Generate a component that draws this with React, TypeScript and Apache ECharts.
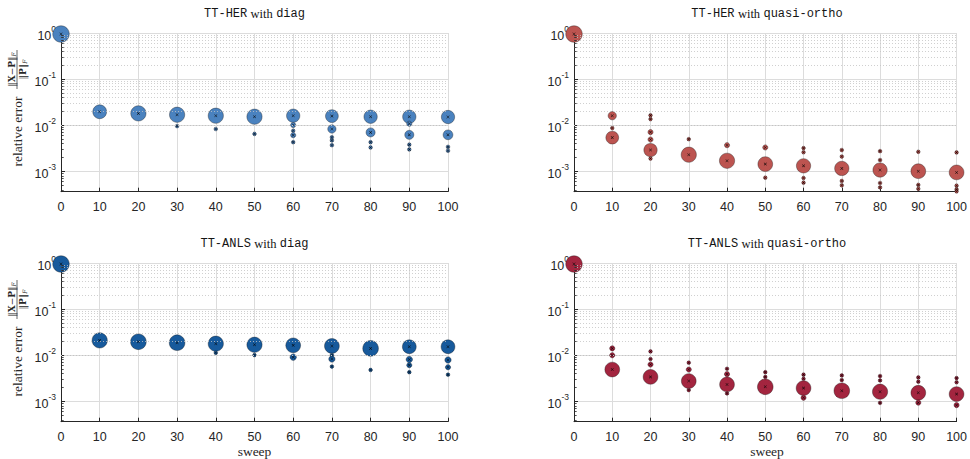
import React, { useEffect, useRef } from "react";
import * as echarts from "echarts";

// ---------- data ----------
const sweepTicks = [0, 10, 20, 30, 40, 50, 60, 70, 80, 90, 100];
const yMin = 3.63e-4;
const yMax = 1;

// [sweep, relative error, number of runs]
const herDiag: [number, number, number][] = [
  [0, 0.95, 20],
  [10, 0.0196, 14],
  [20, 0.0181, 17],
  [30, 0.0169, 17], [30, 0.0096, 1],
  [40, 0.0161, 17], [40, 0.0083, 1],
  [50, 0.0153, 17], [50, 0.0065, 1],
  [60, 0.0161, 13], [60, 0.0101, 2], [60, 0.0076, 1], [60, 0.0061, 2], [60, 0.0043, 1],
  [70, 0.0158, 12], [70, 0.0083, 5], [70, 0.0055, 1], [70, 0.0047, 1], [70, 0.0037, 1],
  [80, 0.0153, 13], [80, 0.007, 6], [80, 0.0043, 1], [80, 0.0033, 1],
  [90, 0.0153, 13], [90, 0.0108, 2], [90, 0.0062, 6], [90, 0.0038, 1], [90, 0.003, 1],
  [100, 0.0151, 13], [100, 0.0062, 7], [100, 0.0034, 1], [100, 0.0028, 1],
];

const herQuasi: [number, number, number][] = [
  [0, 0.95, 20],
  [10, 0.0161, 5], [10, 0.0087, 1], [10, 0.0054, 12],
  [20, 0.0164, 1], [20, 0.0136, 1], [20, 0.0071, 2], [20, 0.0049, 2], [20, 0.0029, 13], [20, 0.0019, 1],
  [30, 0.005, 1], [30, 0.0023, 17],
  [40, 0.0037, 2], [40, 0.0017, 17],
  [50, 0.0033, 2], [50, 0.00144, 16], [50, 0.00073, 1],
  [60, 0.0032, 1], [60, 0.0026, 1], [60, 0.00132, 15], [60, 0.00072, 1], [60, 0.00057, 1],
  [70, 0.0029, 1], [70, 0.0021, 1], [70, 0.00116, 15], [70, 0.00062, 1], [70, 0.0005, 1],
  [80, 0.00275, 1], [80, 0.00176, 1], [80, 0.00107, 15], [80, 0.00056, 1], [80, 0.00045, 1],
  [90, 0.00266, 1], [90, 0.00101, 16], [90, 0.00051, 1], [90, 0.00042, 1],
  [100, 0.00258, 1], [100, 0.00095, 16], [100, 0.00049, 1], [100, 0.00041, 1], [100, 0.00037, 1],
];

const anlsDiag: [number, number, number][] = [
  [0, 0.95, 20],
  [10, 0.021, 17],
  [20, 0.0196, 18],
  [30, 0.0187, 18],
  [40, 0.0178, 17], [40, 0.0113, 1],
  [50, 0.0169, 17], [50, 0.0101, 1],
  [60, 0.0164, 16], [60, 0.0091, 3],
  [70, 0.0159, 16], [70, 0.0101, 1], [70, 0.0083, 3], [70, 0.0057, 1],
  [80, 0.0141, 18], [80, 0.0048, 1],
  [90, 0.0153, 14], [90, 0.0081, 3], [90, 0.0061, 2], [90, 0.0043, 1],
  [100, 0.0153, 14], [100, 0.0079, 3], [100, 0.0055, 2], [100, 0.0038, 1],
];

const anlsQuasi: [number, number, number][] = [
  [0, 0.95, 20],
  [10, 0.0141, 2], [10, 0.01, 2], [10, 0.0049, 16],
  [20, 0.0121, 1], [20, 0.0083, 1], [20, 0.0063, 2], [20, 0.0034, 16],
  [30, 0.0069, 1], [30, 0.0049, 2], [30, 0.00276, 16], [30, 0.00176, 1],
  [40, 0.0051, 1], [40, 0.0039, 2], [40, 0.00233, 16], [40, 0.00149, 1],
  [50, 0.0043, 1], [50, 0.0034, 1], [50, 0.00207, 18],
  [60, 0.0038, 1], [60, 0.0031, 1], [60, 0.00194, 16], [60, 0.0012, 2],
  [70, 0.00366, 1], [70, 0.0029, 1], [70, 0.0017, 18],
  [80, 0.00354, 1], [80, 0.00285, 1], [80, 0.00162, 17], [80, 0.00093, 1],
  [90, 0.0033, 1], [90, 0.00267, 1], [90, 0.00154, 16], [90, 0.00094, 2],
  [100, 0.0032, 1], [100, 0.0026, 1], [100, 0.00144, 16], [100, 0.00083, 2],
];

const titles = [
  ["TT-HER", "diag"],
  ["TT-HER", "quasi-ortho"],
  ["TT-ANLS", "diag"],
  ["TT-ANLS", "quasi-ortho"],
];
const colors = ["#4a82bf", "#bc5450", "#175a9c", "#a3253f"];
const panelData = [herDiag, herQuasi, anlsDiag, anlsQuasi];

// ---------- layout ----------
const grids = [
  { left: 61, top: 33, width: 387, height: 158.7 },
  { left: 574, top: 33, width: 386, height: 158.7 },
  { left: 61, top: 263, width: 387, height: 158.7 },
  { left: 574, top: 263, width: 386, height: 158.7 },
];

const DARK = "#262626";
const MONO = "Liberation Mono";
const SERIF = "Liberation Serif";
const SANS = "Liberation Sans";

const crossPath =
  "path://M0,1L1,0L5,4L9,0L10,1L6,5L10,9L9,10L5,6L1,10L0,9L4,5Z";

function minorValues(): number[] {
  const out: number[] = [];
  for (let e = -4; e <= -1; e++) {
    for (let k = 2; k <= 9; k++) {
      const v = k * Math.pow(10, e);
      if (v > yMin && v < yMax) out.push(v);
    }
  }
  return out;
}

function yName(cx: number, cy: number) {
  const fracRich = {
    b: { fontFamily: "DejaVu Serif", fontWeight: "bold", fontSize: 9, fill: DARK },
    s: { fontFamily: "DejaVu Serif", fontStyle: "italic", fontSize: 6, fill: DARK, verticalAlign: "bottom", lineHeight: 6 },
  };
  return {
    type: "group",
    x: cx,
    y: cy,
    rotation: Math.PI / 2,
    silent: true,
    children: [
      {
        type: "text",
        x: -23.5,
        y: 0,
        style: {
          text: "relative error",
          fontFamily: SERIF,
          fontSize: 13.5,
          fill: DARK,
          align: "center",
          verticalAlign: "middle",
        },
      },
      {
        type: "text",
        x: 38.5,
        y: -5.5,
        style: {
          text: "‖{b|X}−{b|P}‖{s|F}",
          fontFamily: "DejaVu Serif",
          fontSize: 9,
          fill: DARK,
          align: "center",
          verticalAlign: "middle",
          rich: fracRich,
        },
      },
      {
        type: "line",
        shape: { x1: 19, y1: 0, x2: 58, y2: 0 },
        style: { stroke: DARK, lineWidth: 0.7 },
      },
      {
        type: "text",
        x: 38.5,
        y: 6,
        style: {
          text: "‖{b|P}‖{s|F}",
          fontFamily: "DejaVu Serif",
          fontSize: 9,
          fill: DARK,
          align: "center",
          verticalAlign: "middle",
          rich: fracRich,
        },
      },
    ],
  };
}

function buildOption() {
  const minors = minorValues();
  const series: any[] = [];
  const xAxis: any[] = [];
  const yAxis: any[] = [];
  const graphic: any[] = [];
  const title: any[] = [];

  grids.forEach((g, i) => {
    xAxis.push({
      type: "value",
      gridIndex: i,
      min: sweepTicks[0],
      max: sweepTicks[sweepTicks.length - 1],
      interval: sweepTicks[1] - sweepTicks[0],
      axisLine: { show: true, onZero: false, lineStyle: { color: DARK, width: 1 } },
      axisTick: { show: true, inside: true, length: 4, lineStyle: { color: DARK } },
      axisLabel: { color: DARK, fontSize: 12.5, fontFamily: SANS, margin: 9 },
      splitLine: { show: true, lineStyle: { color: "#dcdcdc", width: 1 } },
    });
    yAxis.push({
      type: "log",
      logBase: 10,
      gridIndex: i,
      min: yMin,
      max: yMax,
      axisLine: { show: true, lineStyle: { color: DARK, width: 1 } },
      axisTick: { show: true, inside: true, length: 4, lineStyle: { color: DARK } },
      axisLabel: {
        margin: 5,
        showMinLabel: false,
        formatter: (v: number) => {
          const e = Math.log10(v);
          const r = Math.round(e);
          if (Math.abs(e - r) > 1e-6) return "";
          return `{b|10}{s|${r}}`;
        },
        rich: {
          b: { fontSize: 12.5, fontFamily: SANS, color: DARK, lineHeight: 18, verticalAlign: "bottom" },
          s: { fontSize: 8.5, fontFamily: SANS, color: DARK, lineHeight: 8, verticalAlign: "top" },
        },
      },
      splitLine: { show: true, lineStyle: { color: "#dcdcdc", width: 1 } },
    });

    // minor grid + minor ticks
    const mlData: any[] = [];
    minors.forEach((v) => mlData.push({ yAxis: v }));
    minors.forEach((v) =>
      mlData.push([
        { coord: [0, v], lineStyle: { color: DARK, type: "solid", width: 0.8 } },
        { coord: [0.7, v] },
      ])
    );
    series.push({
      type: "scatter",
      xAxisIndex: i,
      yAxisIndex: i,
      data: [],
      silent: true,
      z: 1,
      markLine: {
        silent: true,
        symbol: ["none", "none"],
        label: { show: false },
        animation: false,
        lineStyle: { color: "#c4c4c4", type: [1, 2], width: 0.8 },
        emphasis: { disabled: true },
        data: mlData,
      },
    });

    const pts = [...panelData[i]].sort((a, b) => b[2] - a[2]);
    series.push({
      type: "scatter",
      xAxisIndex: i,
      yAxisIndex: i,
      data: pts,
      clip: false,
      z: 3,
      symbol: "circle",
      symbolSize: (d: number[]) => 3.7 * Math.sqrt(d[2]),
      itemStyle: {
        color: colors[i],
        borderColor: "rgba(20,20,20,0.6)",
        borderWidth: 0.6,
        opacity: 1,
      },
      emphasis: { disabled: true },
    });
    series.push({
      type: "scatter",
      xAxisIndex: i,
      yAxisIndex: i,
      data: pts,
      clip: false,
      z: 4,
      symbol: crossPath,
      symbolSize: 3,
      itemStyle: { color: "#000", opacity: 1 },
      emphasis: { disabled: true },
    });

    const cx = g.left + g.width / 2;
    title.push({
      text: `{m|${titles[i][0]}} {s|with} {m|${titles[i][1]}}`,
      left: cx,
      top: g.top - 26,
      textAlign: "center",
      padding: 0,
      textStyle: {
        fontSize: 12,
        color: "#151515",
        rich: {
          m: { fontFamily: MONO, fontSize: 12, fontWeight: "normal", color: "#151515" },
          s: { fontFamily: SERIF, fontSize: 12.5, fontWeight: "normal", color: "#151515" },
        },
      },
    });
    if (i >= 2) {
      graphic.push({
        type: "text",
        x: cx,
        y: 451,
        silent: true,
        style: {
          text: "sweep",
          fontFamily: SERIF,
          fontSize: 13.5,
          fill: DARK,
          align: "center",
          verticalAlign: "middle",
        },
      });
    }
    if (i % 2 === 0) {
      graphic.push(yName(17, g.top + 75));
    }
  });

  return {
    animation: false,
    backgroundColor: "#ffffff",
    textStyle: { fontFamily: SANS },
    title,
    grid: grids.map((g) => ({ ...g, containLabel: false })),
    xAxis,
    yAxis,
    series,
    graphic,
  };
}

export default function App() {
  const ref = useRef<HTMLDivElement>(null);
  useEffect(() => {
    document.body.style.margin = "0";
    if (!ref.current) return;
    const chart = echarts.init(ref.current, undefined, { renderer: "svg" });
    chart.setOption(buildOption() as any);
    return () => chart.dispose();
  }, []);
  return <div ref={ref} style={{ width: 970, height: 459 }} />;
}
